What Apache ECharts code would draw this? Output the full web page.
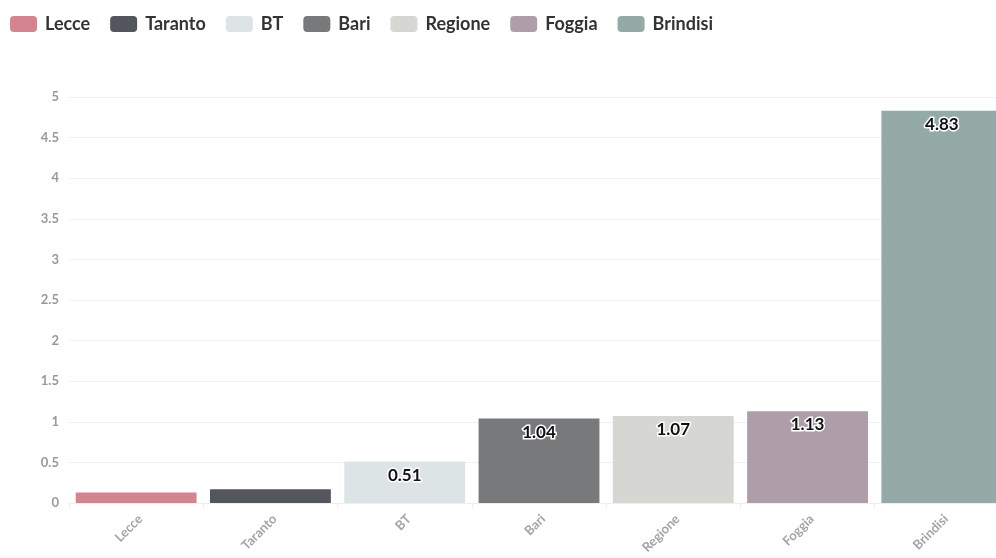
<!DOCTYPE html>
<html>
<head>
<meta charset="utf-8">
<script src="https://cdn.jsdelivr.net/npm/echarts@6/dist/echarts.min.js"></script>
<style>
  html, body { margin: 0; padding: 0; background: #fff; }
  #chart { width: 996px; height: 558px; }
</style>
</head>
<body>
<div id="chart"></div>
<script>
// Province names along the x axis
const categories = ['Lecce', 'Taranto', 'BT', 'Bari', 'Regione', 'Foggia', 'Brindisi'];
// One value per province
const values = [0.13, 0.17, 0.51, 1.04, 1.07, 1.13, 4.83];
// Bar colours, one per province
const colors = ['#d3848f', '#53565c', '#dde4e6', '#77797b', '#d6d7d3', '#ad9eaa', '#94aaa6'];
// Y axis ticks
const yTicks = { min: 0, max: 5, interval: 0.5 };

const chart = echarts.init(document.getElementById('chart'));

// Each province is its own series so the legend lists it; stacking keeps full-width bars.
const series = categories.map((name, i) => ({
  name: name,
  type: 'bar',
  stack: 'all',
  barCategoryGap: '10%',
  itemStyle: { color: colors[i] },
  label: {
    show: values[i] > 0.3,
    position: 'insideTop',
    distance: 5,
    fontFamily: 'Lato',
    fontWeight: 'bold',
    fontSize: 17,
    color: '#111',
    textBorderColor: '#fff',
    textBorderWidth: 3,
    formatter: p => p.value
  },
  data: categories.map((_, j) => (j === i ? values[i] : null))
}));

chart.setOption({
  animation: false,
  legend: {
    left: 10,
    top: 15,
    padding: 0,
    itemWidth: 27,
    itemHeight: 16,
    itemGap: 20,
    icon: 'roundRect',
    textStyle: { fontFamily: 'Lato', fontWeight: 'bold', fontSize: 18, color: '#333', padding: [0, 0, 0, 3] },
    data: categories
  },
  // The last bar runs past the right edge of the page, so the grid is allowed to overflow.
  grid: { left: 69, top: 97, right: -13, bottom: 55, containLabel: false, outerBoundsMode: 'none' },
  xAxis: {
    type: 'category',
    data: categories,
    axisLine: { lineStyle: { color: '#eeeeee' } },
    axisTick: { show: true, lineStyle: { color: '#eeeeee' } },
    axisLabel: {
      rotate: 45,
      margin: 18,
      padding: [0, -6, 0, 0],
      fontFamily: 'Lato',
      fontWeight: 'bold',
      fontSize: 13,
      color: '#a5a5a5'
    }
  },
  yAxis: {
    type: 'value',
    min: yTicks.min,
    max: yTicks.max,
    interval: yTicks.interval,
    axisLine: { show: false },
    axisTick: { show: false },
    splitLine: { lineStyle: { color: '#f0f0f0' } },
    axisLabel: {
      margin: 10,
      fontFamily: 'Lato',
      fontWeight: 'bold',
      fontSize: 13,
      color: '#999'
    }
  },
  series: series
});
</script>
</body>
</html>
